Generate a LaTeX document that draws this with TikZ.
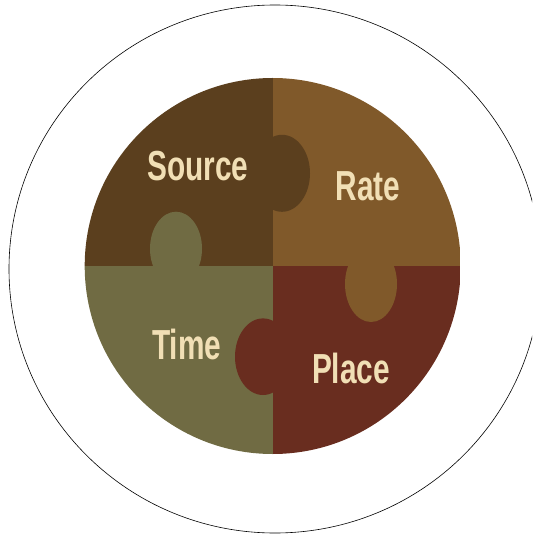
\documentclass[tikz,border=0pt]{standalone}
\usepackage{fontspec}
\newfontfamily\piecefont{Liberation Sans}[FakeStretch=0.71]
\usepackage{tikz}
\usetikzlibrary{positioning}

\definecolor{sourcebrown}{HTML}{5B3F1E}
\definecolor{rategold}{HTML}{80592A}
\definecolor{timeolive}{HTML}{706B43}
\definecolor{placered}{HTML}{692D1F}
\definecolor{labelcream}{HTML}{F1DFB5}

\begin{document}
\begin{tikzpicture}[x=1pt,y=-1pt,
  piecelabel/.style={text=labelcream,inner sep=0pt,
    font=\piecefont\bfseries\fontsize{42}{42}\selectfont}]
\useasboundingbox (0,0) rectangle (532,534);
\clip (0,0) rectangle (532,534);

% outer ring
\draw[line width=0.6pt] (275,269) ellipse (266 and 264);

% the four pieces
\begin{scope}
\clip (272.7,266) circle (188);
\fill[sourcebrown] (84,77) rectangle (272.7,266);
\fill[rategold] (272.7,77) rectangle (461,266);
\fill[timeolive] (84,266) rectangle (272.7,455);
\fill[placered] (272.7,266) rectangle (461,455);
% tabs
\fill[sourcebrown] (282,173.3) ellipse (28 and 38.5);
\fill[timeolive] (176,248.7) ellipse (26 and 37);
\fill[rategold] (371,284) ellipse (26 and 38);
\fill[placered] (263,356.7) ellipse (28 and 38.3);
\end{scope}

% labels
\node[piecelabel] (source) at (198,166.5) {Source};
\node[piecelabel] (rate) at (368,186.7) {Rate};
\node[piecelabel] (time) at (186.7,344) {Time};
\node[piecelabel] (place) at (351,368) {Place};
\end{tikzpicture}
\end{document}
